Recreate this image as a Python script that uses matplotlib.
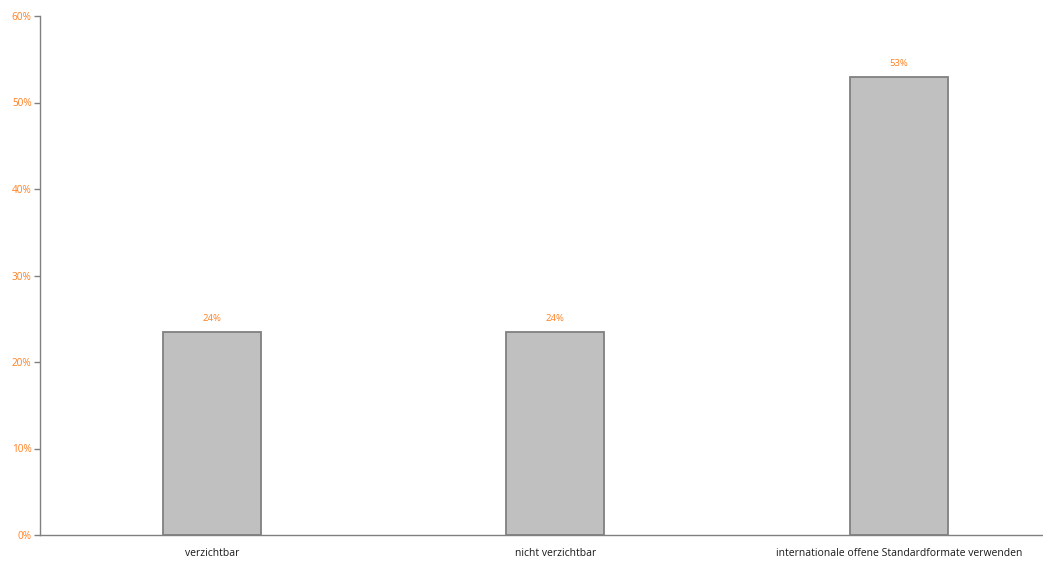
import matplotlib
matplotlib.use('Agg')
import matplotlib.pyplot as plt
from matplotlib.ticker import PercentFormatter

# Daten
kategorien = ['verzichtbar', 'nicht verzichtbar', 'internationale offene Standardformate verwenden']
werte = [0.235, 0.235, 0.53]
beschriftung = ['24%', '24%', '53%']

orange = '#ff7f1e'
grau = '#808080'

plt.rcParams['font.family'] = ['Open Sans', 'DejaVu Sans']

fig = plt.figure(figsize=(10.43, 5.64), dpi=100)
ax = fig.add_axes([40/1043, 29/564, 1003/1043, 519/564])

x = range(len(kategorien))
bars = ax.bar(x, werte, width=0.285, color='#c0c0c0', edgecolor=grau, linewidth=1.3)

for b, t in zip(bars, beschriftung):
    ax.annotate(t, (b.get_x() + b.get_width()/2, b.get_height()), xytext=(0, 6),
                textcoords='offset points', ha='center', va='bottom', fontsize=6.8, color=orange)

ax.set_ylim(0, 0.6)
ax.set_xlim(-0.5, 2.42)
ax.set_yticks([0, 0.1, 0.2, 0.3, 0.4, 0.5, 0.6])
ax.yaxis.set_major_formatter(PercentFormatter(1.0, decimals=0))
ax.set_xticks(list(x))
ax.set_xticklabels(kategorien)

for s in ['top', 'right']:
    ax.spines[s].set_visible(False)
for s in ['left', 'bottom']:
    ax.spines[s].set_color(grau)
    ax.spines[s].set_linewidth(1)

ax.tick_params(axis='y', colors=grau, labelcolor=orange, labelsize=7.2, length=4, width=1, pad=2)
ax.tick_params(axis='x', length=0, labelsize=7.5, labelcolor='#1a1a1a', pad=9)

fig.savefig('out.png', dpi=100)
